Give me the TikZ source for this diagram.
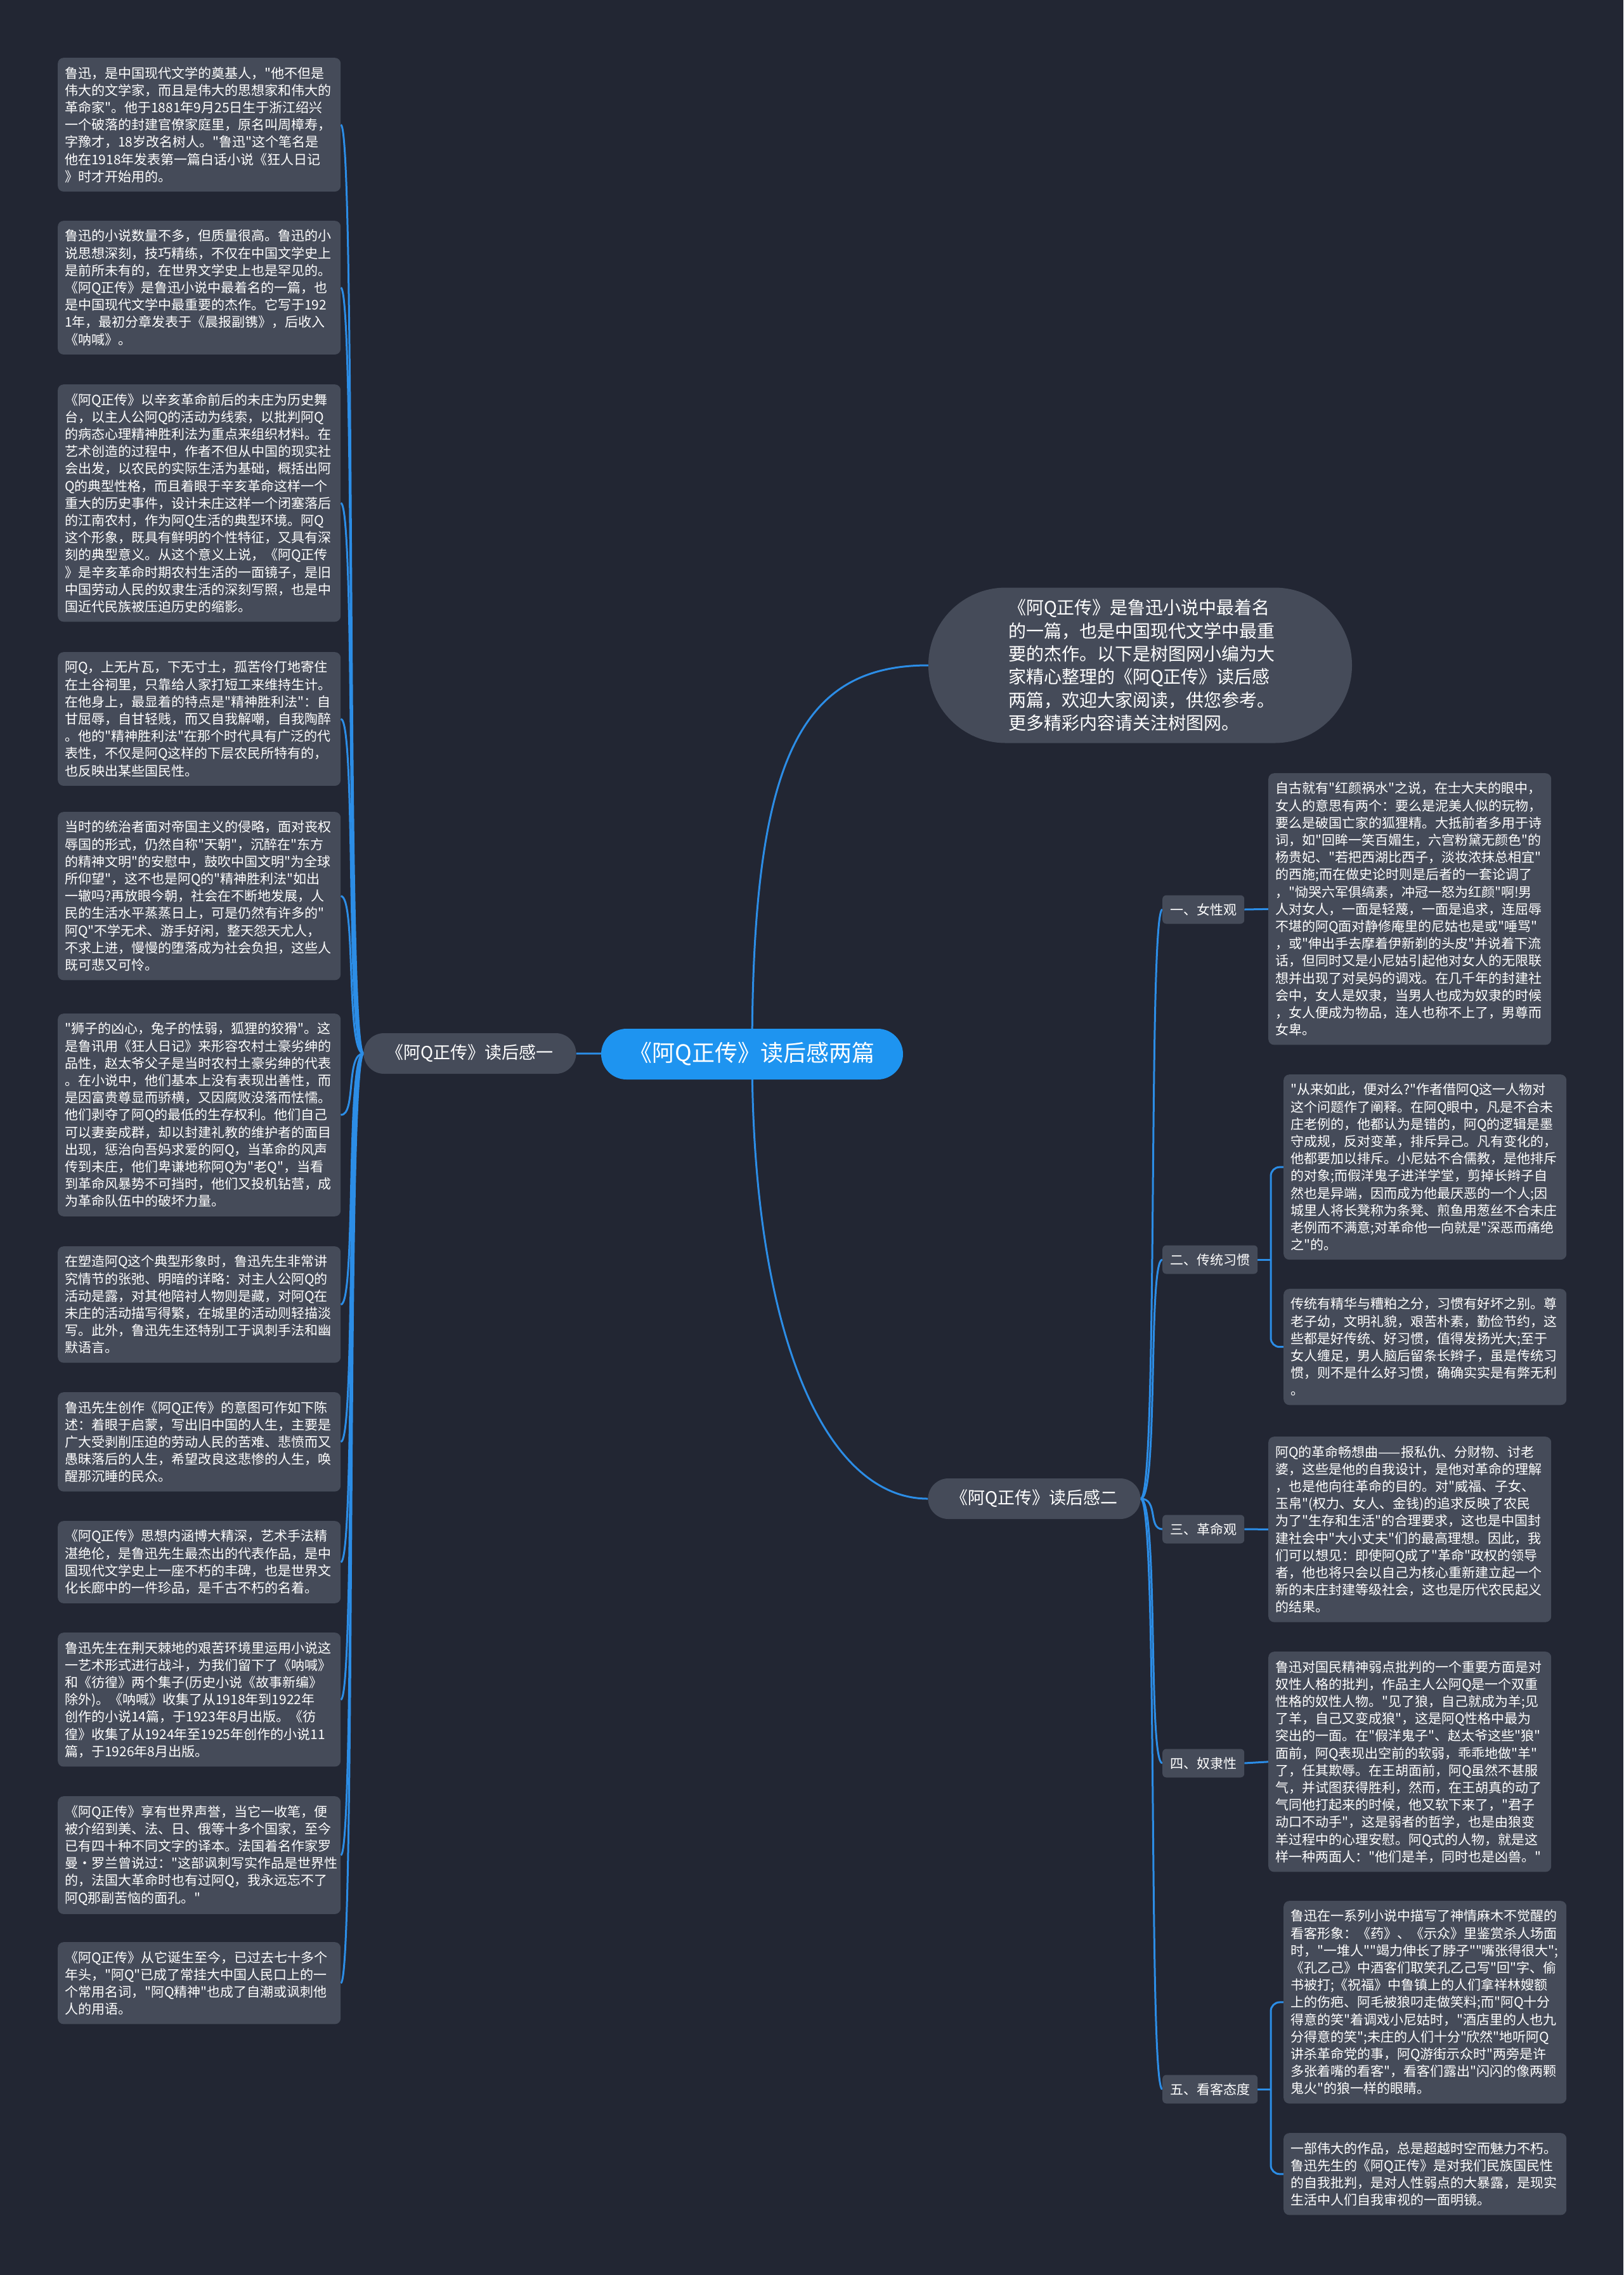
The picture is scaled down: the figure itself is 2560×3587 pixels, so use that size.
\documentclass[tikz,border=0pt]{standalone}
\usepackage{fontspec}
\usepackage{tikz}
\usetikzlibrary{positioning}
\newfontfamily\cjk{Noto Sans CJK SC}

\definecolor{bgcol}{HTML}{222633}
\definecolor{boxcol}{HTML}{454B59}
\definecolor{rootcol}{HTML}{1E94F0}
\definecolor{linkcol}{HTML}{2C8DE6}

\pgfdeclarelayer{edges}
\pgfsetlayers{edges,main}

\tikzset{
  leaf/.style={fill=boxcol, rounded corners=9pt, text=white, align=left,
    font=\cjk\fontsize{21}{27.2}\selectfont, text width=424pt,
    inner xsep=11pt, inner ysep=14pt, anchor=north west},
  topic/.style={fill=boxcol, rounded corners=32pt, text=white,
    font=\cjk\fontsize{27}{32}\selectfont, minimum height=64pt, inner xsep=36pt},
  tag/.style={fill=boxcol, rounded corners=6pt, text=white,
    font=\cjk\fontsize{21}{26}\selectfont, minimum height=45pt, inner xsep=12pt, anchor=west},
  link/.style={draw=linkcol, line width=3pt},
}

\begin{document}
\begin{tikzpicture}[x=1pt, y=-1pt]
\begin{pgfonlayer}{edges}
  \fill[bgcol] (0,0) rectangle (2560,3587);
\end{pgfonlayer}
\useasboundingbox (0,0) rectangle (2560,3587);

% centre
\node[fill=rootcol, rounded corners=40pt, text=white, font=\cjk\fontsize{36}{42}\selectfont,
  minimum width=476pt, minimum height=80pt] (root) at (1186,1662) {《阿Q正传》读后感两篇};

\node[fill=boxcol, rounded corners=122pt, text=white, align=left,
  font=\cjk\fontsize{28}{36.4}\selectfont, text width=416pt, inner xsep=126pt,
  minimum height=245pt] (intro) at (1798,1049) {《阿Q正传》是鲁迅小说中最着名\\
的一篇，也是中国现代文学中最重\\
要的杰作。以下是树图网小编为大\\
家精心整理的《阿Q正传》读后感\\
两篇，欢迎大家阅读，供您参考。\\
更多精彩内容请关注树图网。};

\node[topic] (one) at (741,1661) {《阿Q正传》读后感一};
\node[topic] (two) at (1631,2363) {《阿Q正传》读后感二};

% left column
\node[leaf] (a1) at (91,91) {鲁迅，是中国现代文学的奠基人，"他不但是\\
伟大的文学家，而且是伟大的思想家和伟大的\\
革命家"。他于1881年9月25日生于浙江绍兴\\
一个破落的封建官僚家庭里，原名叫周樟寿，\\
字豫才，18岁改名树人。"鲁迅"这个笔名是\\
他在1918年发表第一篇白话小说《狂人日记\\
》时才开始用的。};

\node[leaf] (a2) at (91,348) {鲁迅的小说数量不多，但质量很高。鲁迅的小\\
说思想深刻，技巧精练，不仅在中国文学史上\\
是前所未有的，在世界文学史上也是罕见的。\\
《阿Q正传》是鲁迅小说中最着名的一篇，也\\
是中国现代文学中最重要的杰作。它写于192\\
1年，最初分章发表于《晨报副镌》，后收入\\
《呐喊》。};

\node[leaf] (a3) at (91,606) {《阿Q正传》以辛亥革命前后的未庄为历史舞\\
台，以主人公阿Q的活动为线索，以批判阿Q\\
的病态心理精神胜利法为重点来组织材料。在\\
艺术创造的过程中，作者不但从中国的现实社\\
会出发，以农民的实际生活为基础，概括出阿\\
Q的典型性格，而且着眼于辛亥革命这样一个\\
重大的历史事件，设计未庄这样一个闭塞落后\\
的江南农村，作为阿Q生活的典型环境。阿Q\\
这个形象，既具有鲜明的个性特征，又具有深\\
刻的典型意义。从这个意义上说，《阿Q正传\\
》是辛亥革命时期农村生活的一面镜子，是旧\\
中国劳动人民的奴隶生活的深刻写照，也是中\\
国近代民族被压迫历史的缩影。};

\node[leaf] (a4) at (91,1028) {阿Q，上无片瓦，下无寸土，孤苦伶仃地寄住\\
在土谷祠里，只靠给人家打短工来维持生计。\\
在他身上，最显着的特点是"精神胜利法"：自\\
甘屈辱，自甘轻贱，而又自我解嘲，自我陶醉\\
。他的"精神胜利法"在那个时代具有广泛的代\\
表性，不仅是阿Q这样的下层农民所特有的，\\
也反映出某些国民性。};

\node[leaf] (a5) at (91,1280) {当时的统治者面对帝国主义的侵略，面对丧权\\
辱国的形式，仍然自称"天朝"，沉醉在"东方\\
的精神文明"的安慰中，鼓吹中国文明"为全球\\
所仰望"，这不也是阿Q的"精神胜利法"如出\\
一辙吗?再放眼今朝，社会在不断地发展，人\\
民的生活水平蒸蒸日上，可是仍然有许多的"\\
阿Q"不学无术、游手好闲，整天怨天尤人，\\
不求上进，慢慢的堕落成为社会负担，这些人\\
既可悲又可怜。};

\node[leaf] (a6) at (91,1598) {"狮子的凶心，兔子的怯弱，狐狸的狡猾"。这\\
是鲁讯用《狂人日记》来形容农村土豪劣绅的\\
品性，赵太爷父子是当时农村土豪劣绅的代表\\
。在小说中，他们基本上没有表现出善性，而\\
是因富贵尊显而骄横，又因腐败没落而怯懦。\\
他们剥夺了阿Q的最低的生存权利。他们自己\\
可以妻妾成群，却以封建礼教的维护者的面目\\
出现，惩治向吾妈求爱的阿Q，当革命的风声\\
传到未庄，他们卑谦地称阿Q为"老Q"，当看\\
到革命风暴势不可挡时，他们又投机钻营，成\\
为革命队伍中的破坏力量。};

\node[leaf] (a7) at (91,1965) {在塑造阿Q这个典型形象时，鲁迅先生非常讲\\
究情节的张弛、明暗的详略：对主人公阿Q的\\
活动是露，对其他陪衬人物则是藏，对阿Q在\\
未庄的活动描写得繁，在城里的活动则轻描淡\\
写。此外，鲁迅先生还特别工于讽刺手法和幽\\
默语言。};

\node[leaf] (a8) at (91,2195) {鲁迅先生创作《阿Q正传》的意图可作如下陈\\
述：着眼于启蒙，写出旧中国的人生，主要是\\
广大受剥削压迫的劳动人民的苦难、悲愤而又\\
愚昧落后的人生，希望改良这悲惨的人生，唤\\
醒那沉睡的民众。};

\node[leaf] (a9) at (91,2398) {《阿Q正传》思想内涵博大精深，艺术手法精\\
湛绝伦，是鲁迅先生最杰出的代表作品，是中\\
国现代文学史上一座不朽的丰碑，也是世界文\\
化长廊中的一件珍品，是千古不朽的名着。};

\node[leaf] (a10) at (91,2574) {鲁迅先生在荆天棘地的艰苦环境里运用小说这\\
一艺术形式进行战斗，为我们留下了《呐喊》\\
和《彷徨》两个集子(历史小说《故事新编》\\
除外)。《呐喊》收集了从1918年到1922年\\
创作的小说14篇，于1923年8月出版。《彷\\
徨》收集了从1924年至1925年创作的小说11\\
篇，于1926年8月出版。};

\node[leaf] (a11) at (91,2832) {《阿Q正传》享有世界声誉，当它一收笔，便\\
被介绍到美、法、日、俄等十多个国家，至今\\
已有四十种不同文字的译本。法国着名作家罗\\
曼·罗兰曾说过："这部讽刺写实作品是世界性\\
的，法国大革命时也有过阿Q，我永远忘不了\\
阿Q那副苦恼的面孔。"};

\node[leaf] (a12) at (91,3062) {《阿Q正传》从它诞生至今，已过去七十多个\\
年头，"阿Q"已成了常挂大中国人民口上的一\\
个常用名词，"阿Q精神"也成了自潮或讽刺他\\
人的用语。};

% right side
\node[tag] (t1) at (1833,1434) {一、女性观};
\node[tag] (t2) at (1833,1986) {二、传统习惯};
\node[tag] (t3) at (1833,2411) {三、革命观};
\node[tag] (t4) at (1833,2780) {四、奴隶性};
\node[tag] (t5) at (1833,3294) {五、看客态度};

\node[leaf] (b1) at (2000,1219) {自古就有"红颜祸水"之说，在士大夫的眼中，\\
女人的意思有两个：要么是泥美人似的玩物，\\
要么是破国亡家的狐狸精。大抵前者多用于诗\\
词，如"回眸一笑百媚生，六宫粉黛无颜色"的\\
杨贵妃、"若把西湖比西子，淡妆浓抹总相宜"\\
的西施;而在做史论时则是后者的一套论调了\\
，"恸哭六军俱缟素，冲冠一怒为红颜"啊!男\\
人对女人，一面是轻蔑，一面是追求，连屈辱\\
不堪的阿Q面对静修庵里的尼姑也是或"唾骂"\\
，或"伸出手去摩着伊新剃的头皮"并说着下流\\
话，但同时又是小尼姑引起他对女人的无限联\\
想并出现了对吴妈的调戏。在几千年的封建社\\
会中，女人是奴隶，当男人也成为奴隶的时候\\
，女人便成为物品，连人也称不上了，男尊而\\
女卑。};

\node[leaf] (b2a) at (2024,1694) {"从来如此，便对么?"作者借阿Q这一人物对\\
这个问题作了阐释。在阿Q眼中，凡是不合未\\
庄老例的，他都认为是错的，阿Q的逻辑是墨\\
守成规，反对变革，排斥异己。凡有变化的，\\
他都要加以排斥。小尼姑不合儒教，是他排斥\\
的对象;而假洋鬼子进洋学堂，剪掉长辫子自\\
然也是异端，因而成为他最厌恶的一个人;因\\
城里人将长凳称为条凳、煎鱼用葱丝不合未庄\\
老例而不满意;对革命他一向就是"深恶而痛绝\\
之"的。};

\node[leaf] (b2b) at (2024,2032) {传统有精华与糟粕之分，习惯有好坏之别。尊\\
老子幼，文明礼貌，艰苦朴素，勤俭节约，这\\
些都是好传统、好习惯，值得发扬光大;至于\\
女人缠足，男人脑后留条长辫子，虽是传统习\\
惯，则不是什么好习惯，确确实实是有弊无利\\
。};

\node[leaf] (b3) at (2000,2265) {阿Q的革命畅想曲——报私仇、分财物、讨老\\
婆，这些是他的自我设计，是他对革命的理解\\
，也是他向往革命的目的。对"威福、子女、\\
玉帛"(权力、女人、金钱)的追求反映了农民\\
为了"生存和生活"的合理要求，这也是中国封\\
建社会中"大小丈夫"们的最高理想。因此，我\\
们可以想见：即使阿Q成了"革命"政权的领导\\
者，他也将只会以自己为核心重新建立起一个\\
新的未庄封建等级社会，这也是历代农民起义\\
的结果。};

\node[leaf] (b4) at (2000,2604) {鲁迅对国民精神弱点批判的一个重要方面是对\\
奴性人格的批判，作品主人公阿Q是一个双重\\
性格的奴性人物。"见了狼，自己就成为羊;见\\
了羊，自己又变成狼"，这是阿Q性格中最为\\
突出的一面。在"假洋鬼子"、赵太爷这些"狼"\\
面前，阿Q表现出空前的软弱，乖乖地做"羊"\\
了，任其欺辱。在王胡面前，阿Q虽然不甚服\\
气，并试图获得胜利，然而，在王胡真的动了\\
气同他打起来的时候，他又软下来了，"君子\\
动口不动手"，这是弱者的哲学，也是由狼变\\
羊过程中的心理安慰。阿Q式的人物，就是这\\
样一种两面人："他们是羊，同时也是凶兽。"};

\node[leaf] (b5a) at (2024,2997) {鲁迅在一系列小说中描写了神情麻木不觉醒的\\
看客形象：《药》、《示众》里鉴赏杀人场面\\
时，"一堆人""竭力伸长了脖子""嘴张得很大";\\
《孔乙己》中酒客们取笑孔乙己写"回"字、偷\\
书被打;《祝福》中鲁镇上的人们拿祥林嫂额\\
上的伤疤、阿毛被狼叼走做笑料;而"阿Q十分\\
得意的笑"着调戏小尼姑时，"酒店里的人也九\\
分得意的笑";未庄的人们十分"欣然"地听阿Q\\
讲杀革命党的事，阿Q游街示众时"两旁是许\\
多张着嘴的看客"，看客们露出"闪闪的像两颗\\
鬼火"的狼一样的眼睛。};

\node[leaf] (b5b) at (2024,3363) {一部伟大的作品，总是超越时空而魅力不朽。\\
鲁迅先生的《阿Q正传》是对我们民族国民性\\
的自我批判，是对人性弱点的大暴露，是现实\\
生活中人们自我审视的一面明镜。};

% connectors
\begin{pgfonlayer}{edges}
  \draw[link] (root.center) -- (one.east);
  \draw[link] (root.center) .. controls (1186,1200) and (1260,1049) .. (intro.west);
  \draw[link] (root.center) .. controls (1186,2100) and (1300,2363) .. (two.west);
  \foreach \n in {a1,a2,a3,a4,a5,a6,a7,a8,a9,a10,a11,a12}
    \draw[link] (one.west) .. controls (545,1661) and (562,0|-\n.east) .. (\n.east);
  \foreach \n in {t1,t2,t3,t4,t5}
    \draw[link] (two.east) .. controls (1827,2363) and (1810,0|-\n.west) .. (\n.west);
  \draw[link] (t1.east) -- (b1.west);
  \draw[link] (t3.east) -- (b3.west);
  \draw[link] (t4.east) -- (b4.west);
  \coordinate (j2) at (2004,1986);
  \coordinate (j5) at (2004,3294);
  \draw[link] (t2.east) -- (j2);
  \draw[link, rounded corners=14pt] (b2a.west) -| (j2) |- (b2b.west);
  \draw[link] (t5.east) -- (j5);
  \draw[link, rounded corners=14pt] (b5a.west) -| (j5) |- (b5b.west);
\end{pgfonlayer}
\end{tikzpicture}
\end{document}
